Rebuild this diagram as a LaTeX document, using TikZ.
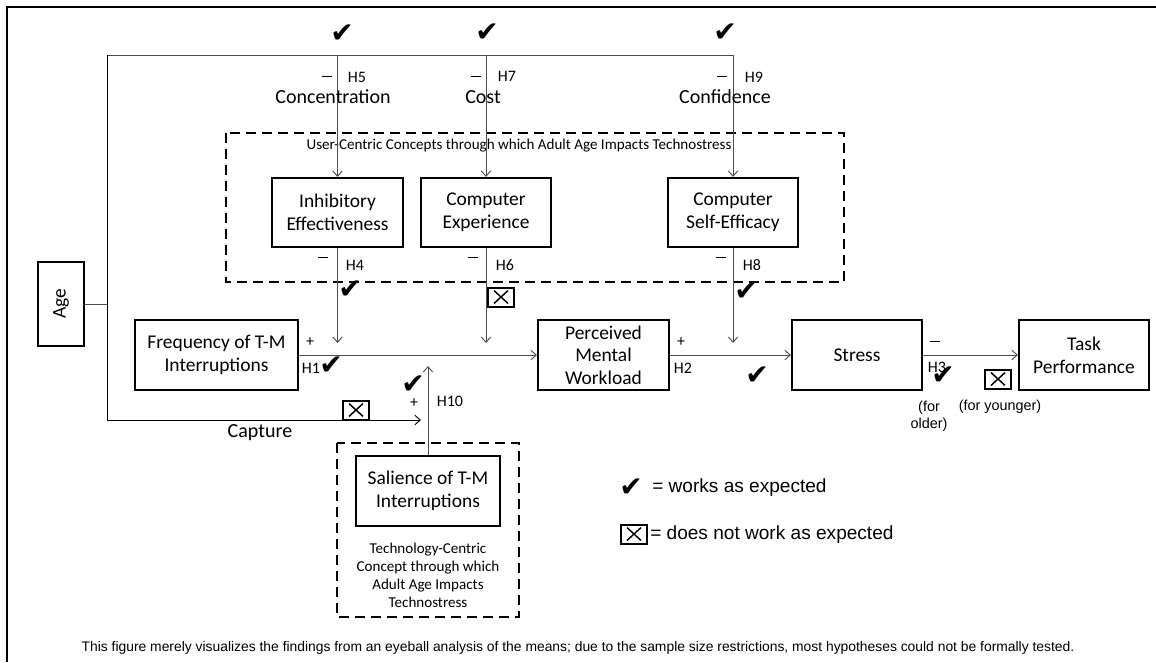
\documentclass[tikz,border=0pt]{standalone}
\usepackage{fontspec}
\setmainfont{Carlito}
\newfontfamily\arialf{Liberation Sans}
\newfontfamily\symf{DejaVu Sans}
\usetikzlibrary{arrows.meta}
\newcommand{\negsign}{\rule[0.28em]{7pt}{0.9pt}}
\begin{document}
\begin{tikzpicture}[x=0.75pt,y=-0.75pt,
  box/.style={draw,line width=1.6pt,align=center,inner sep=0pt,font=\fontsize{14.6}{17}\selectfont},
  conn/.style={draw=black!70,line width=0.7pt},
  arr/.style={conn,-{Straight Barb[length=4pt,width=7pt]}},
  grp/.style={draw,line width=1.5pt,dash pattern=on 7.5pt off 4.5pt},
  hyp/.style={font=\fontsize{12}{14}\selectfont,inner sep=0pt},
  big/.style={font=\fontsize{15}{17}\selectfont,inner sep=0pt},
  small/.style={font=\fontsize{11.3}{13.5}\selectfont,inner sep=0pt,align=center},
  note/.style={font=\arialf\fontsize{10.8}{12.5}\selectfont,inner sep=0pt,align=center},
  chk/.style={font=\symf\fontsize{21}{21}\selectfont,inner sep=0pt},
  xbox/.style={draw,line width=1.5pt,minimum width=19.5pt,minimum height=14.25pt,inner sep=0pt,
    path picture={
      \draw[line width=1.1pt] ([xshift=4.5pt,yshift=-2.3pt]path picture bounding box.north west)
        -- ([xshift=-4.5pt,yshift=2.3pt]path picture bounding box.south east);
      \draw[line width=1.1pt] ([xshift=-4.5pt,yshift=-2.3pt]path picture bounding box.north east)
        -- ([xshift=4.5pt,yshift=2.3pt]path picture bounding box.south west);}},
]
\useasboundingbox (0,0) rectangle (1156,662);

% outer frame
\draw[line width=1.5pt] (7,662) -- (7,7) -- (1156,7);

% group frames
\draw[grp] (226,133) rectangle (844,282);
\draw[grp] (337,443) rectangle (519,617);
\node[small] (ucc) at (519,146) {User-Centric Concepts through which Adult Age Impacts Technostress};
\node[small] (tcc) at (428,575) {Technology-Centric\\Concept through which\\Adult Age Impacts\\Technostress};

% constructs
\node[box,minimum width=63pt,minimum height=34.5pt,rotate=90] (age) at (61,304) {Age};
\node[box,minimum width=98.25pt,minimum height=51.75pt] (ie) at (337.5,212.5) {Inhibitory\\Effectiveness};
\node[box,minimum width=97.5pt,minimum height=51.75pt] (ce) at (486,212.5) {Computer\\Experience};
\node[box,minimum width=97.5pt,minimum height=51.75pt] (cse) at (733,212.5) {Computer\\Self-Efficacy};
\node[box,minimum width=122.25pt,minimum height=52.5pt] (freq) at (216.5,355) {Frequency of T-M\\Interruptions};
\node[box,minimum width=98.25pt,minimum height=52.5pt] (pmw) at (603.5,355) {Perceived\\Mental\\Workload};
\node[box,minimum width=97.5pt,minimum height=52.5pt] (str) at (857,355) {Stress};
\node[box,minimum width=97.5pt,minimum height=52.5pt] (task) at (1084,355) {Task\\Performance};
\node[box,minimum width=108pt,minimum height=52.5pt] (sal) at (428,491) {Salience of T-M\\Interruptions};

% routing points
\coordinate (j1) at (107,304);
\coordinate (tl) at (107,55);
\coordinate (tr) at (733,55);
\coordinate (bl) at (107,420);
\coordinate (cap) at (421,420);
\coordinate (tipy) at (0,343);
\coordinate (h10tip) at (0,366);

% age paths
\draw[conn] (age.south) -- (j1);
\draw[conn] (tl) -- (tr);
\draw[arr,draw=black] (tl) -- (bl) -- (cap);
\draw[arr] (ie.north |- tl) -- (ie.north);
\draw[arr] (ce.north |- tl) -- (ce.north);
\draw[arr] (tr) -- (cse.north);

% moderators onto the main path
\draw[arr] (ie.south) -- (ie.south |- tipy);
\draw[arr] (ce.south) -- (ce.south |- tipy);
\draw[arr] (cse.south) -- (cse.south |- tipy);
\draw[arr] (sal.north) -- (sal.north |- h10tip);

% main path
\draw[arr] (freq.east) -- (pmw.west);
\draw[arr] (pmw.east) -- (str.west);
\draw[arr] (str.east) -- (task.west);

% H5, H7, H9
\node[chk] (c5) at (342,34) {✔};
\node[chk] (c7) at (487,33) {✔};
\node[chk] (c9) at (725,33) {✔};
\node[hyp] (m5) at (327,79) {\negsign};
\node[hyp] (m7) at (476,79) {\negsign};
\node[hyp] (m9) at (722,79) {\negsign};
\node[hyp] (h5) at (357,77) {H5};
\node[hyp] (h7) at (507,76) {H7};
\node[hyp] (h9) at (754,77) {H9};
\node[big] (conc) at (333,97) {Concentration};
\node[big] (cost) at (483,97) {Cost};
\node[big] (conf) at (725,97) {Confidence};

% H4, H6, H8
\node[hyp] (m4) at (323,260) {\negsign};
\node[hyp] (m6) at (473,260) {\negsign};
\node[hyp] (m8) at (721,260) {\negsign};
\node[hyp] (h4) at (355,265) {H4};
\node[hyp] (h6) at (505,265) {H6};
\node[hyp] (h8) at (752,265) {H8};
\node[chk] (c4) at (350,290) {✔};
\node[xbox] (x6) at (501,297) {};
\node[chk] (c8) at (746,292) {✔};

% H1, H2, H3
\node[hyp] (p1) at (310,342) {+};
\node[hyp] (h1) at (311,368) {H1};
\node[chk] (c1) at (331,366) {✔};
\node[hyp] (p2) at (681,342) {+};
\node[hyp] (h2) at (683,368) {H2};
\node[chk] (c2) at (757,376) {✔};
\node[hyp] (m3) at (935,344) {\negsign};
\node[hyp] (h3) at (937,367) {H3};
\node[chk] (c3) at (943,376) {✔};
\node[xbox] (x3) at (998,379) {};
\node[note] (older) at (929,416) {(for\\older)};
\node[note] (younger) at (1000,407) {(for younger)};

% H10 and capture
\node[chk] (c10) at (413,385) {✔};
\node[hyp] (p10) at (414,403) {+};
\node[hyp] (h10) at (450,401) {H10};
\node[xbox] (xcap) at (356,410) {};
\node[big] (capt) at (260,433) {Capture};

% legend
\node[chk] (lc) at (631,488) {✔};
\node[font=\arialf\fontsize{14.3}{17}\selectfont,inner sep=0pt,anchor=west] (lct) at (652,488) {= works as expected};
\node[xbox] (lx) at (634,534) {};
\node[font=\arialf\fontsize{14.3}{17}\selectfont,inner sep=0pt,anchor=west] (lxt) at (650,535) {= does not work as expected};

% footnote
\node[font=\arialf\fontsize{10.4}{12}\selectfont,inner sep=0pt] (foot) at (578,648) {This figure merely visualizes the findings from an eyeball analysis of the means; due to the sample size restrictions, most hypotheses could not be formally tested.};
\end{tikzpicture}
\end{document}
